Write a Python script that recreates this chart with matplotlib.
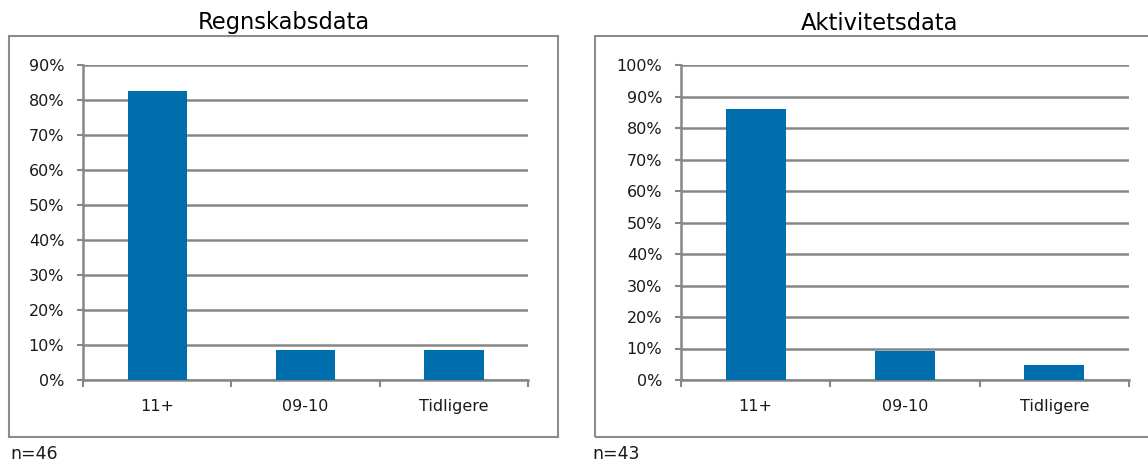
import matplotlib
matplotlib.use("Agg")
import matplotlib.pyplot as plt
from matplotlib.patches import Rectangle
from matplotlib.ticker import FuncFormatter, FixedLocator

plt.rcParams['font.family'] = ['DejaVu Sans']

categories = ["11+", "09-10", "Tidligere"]
regnskab_values = [82.6, 8.7, 8.7]
aktivitet_values = [86.0, 9.3, 4.7]
regnskab_n = 46
aktivitet_n = 43

BAR_COLOR = "#006DAC"
GRID_COLOR = "#878787"
FRAME_COLOR = "#8C8C8C"

W, H = 1148, 462
fig = plt.figure(figsize=(W / 100, H / 100), dpi=100)
fig.patch.set_facecolor("white")


def px_axes(left, top, right, bottom):
    return fig.add_axes([left / W, 1 - bottom / H, (right - left) / W, (bottom - top) / H])


def frame(left, top, right, bottom):
    fig.patches.append(Rectangle((left / W, 1 - bottom / H), (right - left) / W, (bottom - top) / H,
                                 transform=fig.transFigure, fill=False,
                                 edgecolor=FRAME_COLOR, linewidth=1.5))


def panel(ax, values, ymax, title, n, frame_box, n_x):
    x = list(range(len(categories)))
    ax.bar(x, values, width=0.4, color=BAR_COLOR, zorder=3)
    ax.set_xlim(-0.5, len(categories) - 0.5)
    ax.set_ylim(0, ymax)
    ax.yaxis.set_major_locator(FixedLocator(list(range(0, ymax + 1, 10))))
    ax.yaxis.set_major_formatter(FuncFormatter(lambda v, p: f"{v:.0f}%"))
    ax.grid(axis="y", color=GRID_COLOR, linewidth=1.8, zorder=1)
    ax.set_xticks(x)
    ax.set_xticklabels(categories, fontsize=11.5, color="#1a1a1a")
    ax.xaxis.set_minor_locator(FixedLocator([i - 0.5 for i in range(len(categories) + 1)]))
    ax.tick_params(axis="x", which="major", length=0, pad=14)
    ax.tick_params(axis="x", which="minor", length=5, width=1.5, color=GRID_COLOR, direction="out")
    ax.tick_params(axis="y", length=4.5, width=1.5, color=GRID_COLOR, labelsize=11.5,
                   pad=9, labelcolor="#1a1a1a")
    for s in ("top", "right"):
        ax.spines[s].set_visible(False)
    for s in ("left", "bottom"):
        ax.spines[s].set_color(GRID_COLOR)
        ax.spines[s].set_linewidth(1.8)
    ax.set_axisbelow(True)
    l, t, r, b = frame_box
    frame(l, t, r, b)
    fig.text(((l + r) / 2 if r < W else (l + 1165) / 2) / W, 1 - 23 / H, title,
             ha="center", va="center", fontsize=16.3, color="black")
    fig.text(n_x / W, 1 - 454 / H, f"n={n}", ha="left", va="center",
             fontsize=12.5, color="#1a1a1a")


ax1 = px_axes(83, 65, 528, 380)
panel(ax1, regnskab_values, 90, "Regnskabsdata", regnskab_n, (9, 36, 558, 437), 10)

ax2 = px_axes(681, 65, 1129, 380)
panel(ax2, aktivitet_values, 100, "Aktivitetsdata", aktivitet_n, (595, 36, 1160, 437), 592)

fig.savefig("out.png", dpi=100, facecolor="white")
